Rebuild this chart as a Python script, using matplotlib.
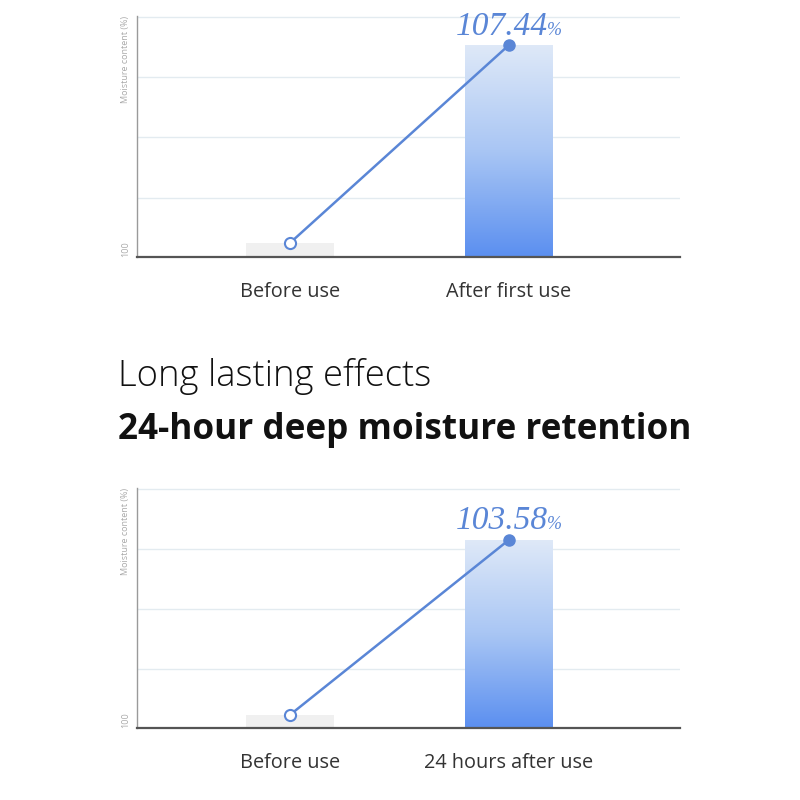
import numpy as np
import matplotlib
matplotlib.use("Agg")
import matplotlib.pyplot as plt
from matplotlib.colors import LinearSegmentedColormap

# ---- data ----
top_categories = ["Before use", "After first use"]
top_values = [100.0, 107.44]
top_label = "107.44"
bottom_categories = ["Before use", "24 hours after use"]
bottom_values = [100.0, 103.58]
bottom_label = "103.58"
y_axis_label = "Moisture content (%)"
y_tick_label = "100"
heading_light = "Long lasting effects"
heading_bold = "24-hour deep moisture retention"

plt.rcParams['font.family'] = ['Open Sans', 'DejaVu Sans']

W = H = 800
fig = plt.figure(figsize=(8, 8), dpi=100)
fig.patch.set_facecolor("white")

BLUE = "#5a86d6"
grad_cmap = LinearSegmentedColormap.from_list("g", ["#dfe9f8", "#a9c6f4", "#5b8ff0"])


def px_axes(left, top, right, bottom):
    return fig.add_axes([left / W, (H - bottom) / H, (right - left) / W, (bottom - top) / H])


def draw_chart(ax, cats, vals, label, ylo, yhi):
    x = np.arange(len(cats))
    ax.set_xlim(-0.699, 1.781)
    ax.set_ylim(ylo, yhi)
    for s in ["top", "right"]:
        ax.spines[s].set_visible(False)
    ax.spines["left"].set_color("#9a9a9a")
    ax.spines["left"].set_linewidth(1.0)
    ax.spines["bottom"].set_color("#555555")
    ax.spines["bottom"].set_linewidth(1.6)
    ax.set_xticks([])
    ax.set_yticks([])
    # gridlines
    for k in range(4):
        gy = ylo + (yhi - ylo) * (0.25 + 0.25 * k) - (yhi - ylo) * 0.004
        ax.axhline(gy, color="#e3ebf0", lw=1.0, zorder=0)
    # bars
    bw = 0.40
    bars = ax.bar(x, [v - ylo for v in vals], bottom=ylo, width=bw,
                  color=["#f0f0f0", "none"], zorder=1)
    b = bars[1]
    grad = np.linspace(0, 1, 256).reshape(-1, 1)
    im = ax.imshow(grad, cmap=grad_cmap, aspect="auto", origin="upper",
                   extent=[x[1] - bw / 2, x[1] + bw / 2, ylo, vals[1]], zorder=1)
    im.set_clip_path(b)
    ax.set_xlim(-0.699, 1.781)
    ax.set_ylim(ylo, yhi)
    # line
    ax.plot(x, vals, color=BLUE, lw=1.8, zorder=3)
    ax.plot(x[0], vals[0], "o", ms=8, mfc="white", mec=BLUE, mew=1.5, zorder=4)
    ax.plot(x[1], vals[1], "o", ms=8, mfc=BLUE, mec=BLUE, zorder=4)
    # value label
    ax.annotate(label, (x[1], vals[1]), xytext=(-5, 7.5), textcoords="offset points",
                ha="center", va="baseline", fontsize=24, style="italic",
                family="Liberation Serif", color=BLUE, annotation_clip=False)
    ax.annotate("%", (x[1], vals[1]), xytext=(27.5, 7.5), textcoords="offset points",
                ha="left", va="baseline", fontsize=13, style="italic",
                family="Liberation Serif", color=BLUE, annotation_clip=False)
    # category labels
    for xi, c in zip(x, cats):
        ax.annotate(c, (xi, ylo), xytext=(0, -25.5), textcoords="offset points",
                    ha="center", va="center", fontsize=14.3, color="#333333")
    # y axis texts
    ax.text(-0.012, 1.0, y_axis_label, transform=ax.transAxes, rotation=90,
            ha="right", va="top", fontsize=6.5, color="#aaaaaa")
    ax.text(-0.012, 0.0, y_tick_label, transform=ax.transAxes, rotation=90,
            ha="right", va="bottom", fontsize=6.5, color="#aaaaaa")


ax1 = px_axes(137, 16, 680, 257)
draw_chart(ax1, top_categories, top_values, top_label, 99.47, 108.53)

ax2 = px_axes(137, 488, 680, 728)
draw_chart(ax2, bottom_categories, bottom_values, bottom_label, 99.73, 104.64)

fig.text(118 / W, 1 - 377 / H, heading_light, ha="left", va="center",
         fontsize=26.2, fontweight="light", color="#111111")
fig.text(118 / W, 1 - 430 / H, heading_bold, ha="left", va="center",
         fontsize=25.3, fontweight="bold", color="#111111")

fig.savefig("out.png", dpi=100, facecolor="white")
